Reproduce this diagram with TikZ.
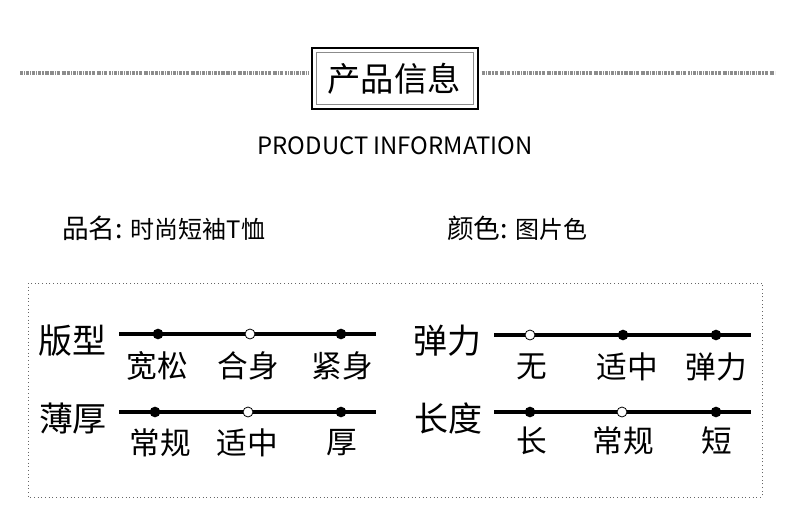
\documentclass[tikz,border=0pt]{standalone}
\usepackage{fontspec}
\setmainfont{Noto Sans CJK SC}
\usetikzlibrary{positioning}

\begin{document}
\begin{tikzpicture}[x=0.75pt,y=0.75pt,yscale=-1,xscale=1,
  dotfull/.style={circle,fill=black,inner sep=0pt,minimum size=8pt},
  dotopen/.style={circle,draw=black,fill=white,line width=0.6pt,inner sep=0pt,minimum size=7.5pt},
  scaleline/.style={line width=3pt},
  rowlabel/.style={font=\fontsize{25.5}{28}\selectfont,inner sep=0.75pt},
  ticklabel/.style={font=\fontsize{23}{26}\selectfont,inner sep=0.75pt},
  barcode/.style={black!45,line width=3pt,dash pattern=on 0.6pt off 0.5pt on 1.5pt off 0.4pt on 0.8pt off 1pt on 2.2pt off 0.5pt on 0.4pt off 0.9pt}
]
  \useasboundingbox (0,0) rectangle (790,518);

  %Title box
  \node (titlebox) [draw=black,line width=1.5pt,minimum width=124.5pt,minimum height=45.75pt] at (395,78.5) {};
  \node (titleinner) [draw=black!45,line width=1pt,minimum width=118pt,minimum height=39.4pt] at (395,78.5) {};
  % Text Node
  \node (title) [font=\fontsize{25}{28}\selectfont,inner sep=0.75pt] at (394,79) {产品信息};
  %Barcode lines
  \coordinate (barL) at (20,73);
  \coordinate (barR) at (775,73);
  \draw [barcode] (barL) -- ([xshift=-2pt]barL -| titlebox.west);
  \draw [barcode] ([xshift=2pt]barR -| titlebox.east) -- (barR);
  % Text Node
  \node (subtitle) [font=\fontsize{17.9}{21}\selectfont,inner sep=0.75pt] at (395,146) {PRODUCT INFORMATION};

  % Text Node
  \node (nameKey) [font=\fontsize{20}{24}\selectfont,anchor=base west,inner sep=0.75pt] at (61,238) {品名:};
  \node (nameVal) [font=\fontsize{18}{22}\selectfont,base right=4pt of nameKey,inner sep=0.75pt] {时尚短袖T恤};
  \node (colorKey) [font=\fontsize{20}{24}\selectfont,anchor=base west,inner sep=0.75pt] at (446,238) {颜色:};
  \node (colorVal) [font=\fontsize{18}{22}\selectfont,base right=4pt of colorKey,inner sep=0.75pt] {图片色};

  %Shape: Dotted frame
  \draw [black!60,dotted,line width=0.75pt] (28,283) rectangle (762,497);

  %Row: fit
  \node (fitLabel) [rowlabel] at (72,341) {版型};
  \coordinate (fitA) at (119,334);
  \coordinate (fitB) at (376,334);
  \draw [scaleline] (fitA) -- (fitB);
  \node (fit1) [dotfull] at (158,334) {};
  \node (fit2) [dotopen] at (250,334) {};
  \node (fit3) [dotfull] at (341,334) {};
  \node (fitT1) [ticklabel] at (157,366) {宽松};
  \node (fitT2) [ticklabel] at (248,366) {合身};
  \node (fitT3) [ticklabel] at (342,366) {紧身};

  %Row: stretch
  \node (strLabel) [rowlabel] at (447,341) {弹力};
  \coordinate (strA) at (494,335);
  \coordinate (strB) at (751,335);
  \draw [scaleline] (strA) -- (strB);
  \node (str1) [dotopen] at (530,335) {};
  \node (str2) [dotfull] at (623,335) {};
  \node (str3) [dotfull] at (716,335) {};
  \node (strT1) [ticklabel] at (532,367) {无};
  \node (strT2) [ticklabel] at (627,367) {适中};
  \node (strT3) [ticklabel] at (716,367) {弹力};

  %Row: thickness
  \node (thkLabel) [rowlabel] at (73,419) {薄厚};
  \coordinate (thkA) at (119,412);
  \coordinate (thkB) at (376,412);
  \draw [scaleline] (thkA) -- (thkB);
  \node (thk1) [dotfull] at (155,412) {};
  \node (thk2) [dotopen] at (248,412) {};
  \node (thk3) [dotfull] at (341,412) {};
  \node (thkT1) [ticklabel] at (160,443) {常规};
  \node (thkT2) [ticklabel] at (247,443) {适中};
  \node (thkT3) [ticklabel] at (342,443) {厚};

  %Row: length
  \node (lenLabel) [rowlabel] at (448,418) {长度};
  \coordinate (lenA) at (494,412);
  \coordinate (lenB) at (751,412);
  \draw [scaleline] (lenA) -- (lenB);
  \node (len1) [dotfull] at (530,412) {};
  \node (len2) [dotopen] at (622,412) {};
  \node (len3) [dotfull] at (716,412) {};
  \node (lenT1) [ticklabel] at (532,441) {长};
  \node (lenT2) [ticklabel] at (623,441) {常规};
  \node (lenT3) [ticklabel] at (717,441) {短};

\end{tikzpicture}
\end{document}
